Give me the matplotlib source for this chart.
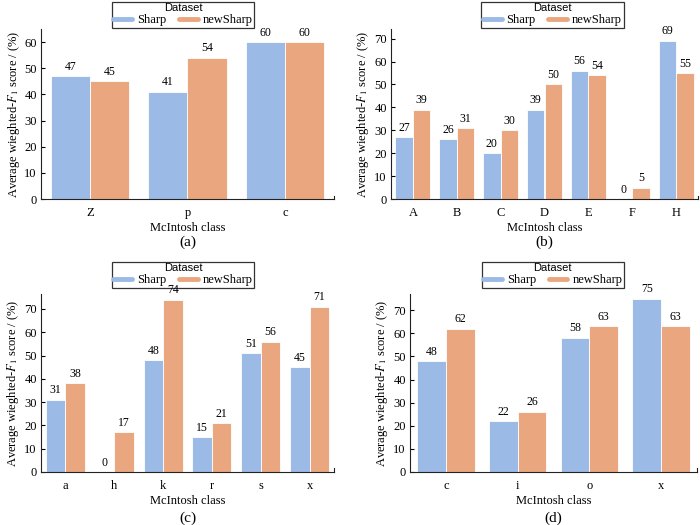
import matplotlib
matplotlib.use("Agg")
import matplotlib.pyplot as plt
from matplotlib.lines import Line2D
import numpy as np

plt.rcParams['font.family'] = ['Liberation Serif', 'DejaVu Serif']
plt.rcParams['mathtext.fontset'] = 'stix'

# Data
cats_a = ['Z', 'p', 'c']
sharp_a = [47, 41, 60]
new_a = [45, 54, 60]

cats_b = ['A', 'B', 'C', 'D', 'E', 'F', 'H']
sharp_b = [27, 26, 20, 39, 56, 0, 69]
new_b = [39, 31, 30, 50, 54, 5, 55]

cats_c = ['a', 'h', 'k', 'r', 's', 'x']
sharp_c = [31, 0, 48, 15, 51, 45]
new_c = [38, 17, 74, 21, 56, 71]

cats_d = ['c', 'i', 'o', 'x']
sharp_d = [48, 22, 58, 75]
new_d = [62, 26, 63, 63]

series_names = ['Sharp', 'newSharp']
captions = ['(a)', '(b)', '(c)', '(d)']

BLUE = '#9CBAE6'
ORANGE = '#EAA77F'

fig = plt.figure(figsize=(7, 5.25), dpi=100)

W, H = 700, 525
def pos(l, r, t, b):
    return [l / W, (H - b) / H, (r - l) / W, (b - t) / H]

# axes box, y top, max tick, legend centre x (axes frac), legend bottom (px), caption y (px)
panels = [
    (cats_a, sharp_a, new_a, pos(41, 334, 29, 199), 65.0, 60, 0.485, 28, 242),
    (cats_b, sharp_b, new_b, pos(391, 698, 29, 199), 74.2, 70, 0.526, 28, 242),
    (cats_c, sharp_c, new_c, pos(41, 334, 294, 472), 76.4, 70, 0.485, 288, 518),
    (cats_d, sharp_d, new_d, pos(410, 697, 294, 472), 77.0, 70, 0.497, 288, 518),
]

for k, (cats, s1, s2, p, ytop, ymaxtick, lx, lbot, capy) in enumerate(panels):
    ax = fig.add_axes(p)
    x = np.arange(len(cats))
    b1 = ax.bar(x - 0.2, s1, 0.4, color=BLUE, edgecolor='white', linewidth=0.6)
    b2 = ax.bar(x + 0.2, s2, 0.4, color=ORANGE, edgecolor='white', linewidth=0.6)
    for bc, vals in ((b1, s1), (b2, s2)):
        for t in ax.bar_label(bc, labels=[str(v) for v in vals], padding=2.5, fontsize=8.5):
            t.set_zorder(10)
            t.set_clip_on(False)
    ax.set_xlim(-0.5, len(cats) - 0.5)
    ax.set_ylim(0, ytop)
    ax.set_yticks(np.arange(0, ymaxtick + 1, 10))
    ax.set_xticks(x)
    ax.set_xticklabels(cats)
    ax.tick_params(axis='y', direction='in', length=3, width=0.8, labelsize=9, pad=3)
    ax.tick_params(axis='x', length=0, labelsize=9, pad=6)
    ax.spines['top'].set_visible(False)
    ax.spines['right'].set_bounds(0, ytop * 0.02)
    for s in ['left', 'bottom', 'right']:
        ax.spines[s].set_linewidth(0.8)
        ax.spines[s].set_color('#222222')
    ax.set_xlabel('McIntosh class', fontsize=9, labelpad=2)
    ax.set_ylabel(r'Average wieghted-$F_1$ score / (%)', fontsize=9, labelpad=2)
    handles = [Line2D([0], [0], color=BLUE, lw=3.5, solid_capstyle='round'),
               Line2D([0], [0], color=ORANGE, lw=3.5, solid_capstyle='round')]
    ax_top_px = H - (p[1] + p[3]) * H
    ly = 1.0 + (ax_top_px - lbot) / (p[3] * H)
    leg = ax.legend(handles, series_names, loc='lower center', bbox_to_anchor=(lx, ly),
                    ncol=2, title='Dataset', fontsize=9, frameon=True, fancybox=False,
                    edgecolor='black', borderpad=0.12, handlelength=1.5, handletextpad=0.4,
                    columnspacing=1.0, labelspacing=0.1, borderaxespad=0.0)
    leg.get_frame().set_linewidth(0.9)
    leg.set_zorder(5)
    leg.get_title().set_fontfamily('Liberation Sans')
    leg.get_title().set_fontsize(8)
    cx = p[0] + p[2] * 0.5
    fig.text(cx, 1 - capy / H, captions[k], ha='center', va='center', fontsize=11)

fig.savefig('out.png', dpi=100)
